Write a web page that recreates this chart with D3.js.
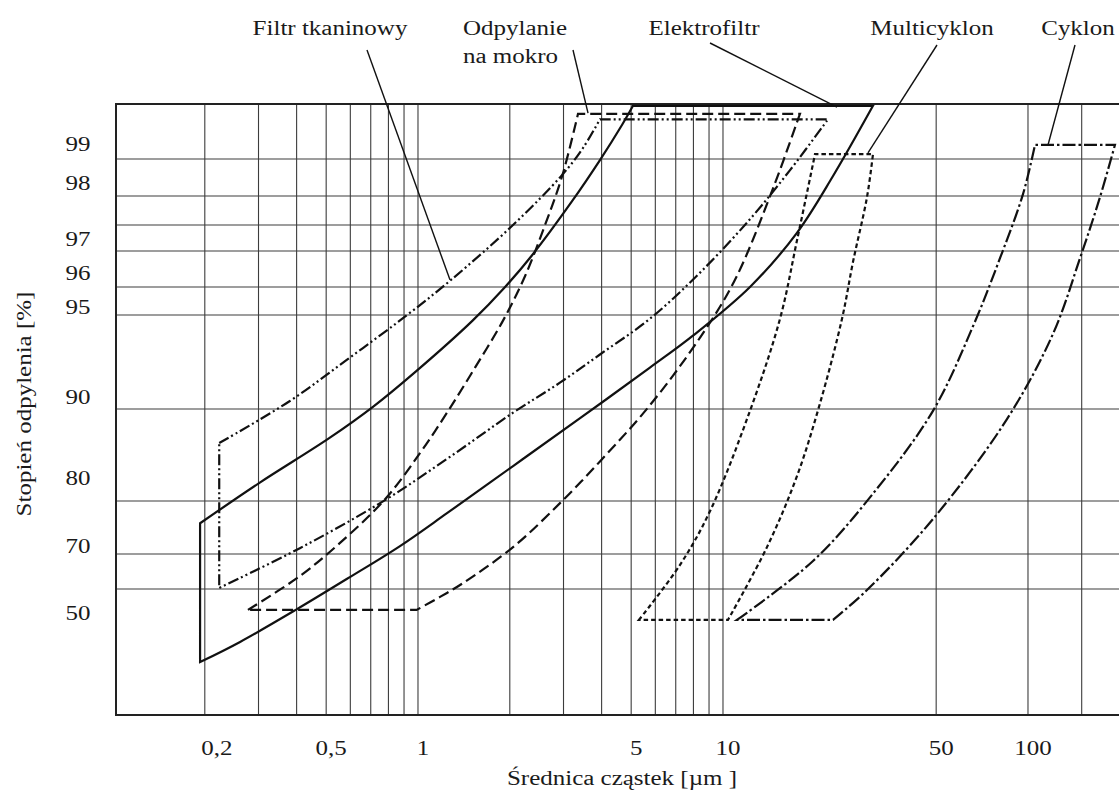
<!DOCTYPE html>
<html>
<head>
<meta charset="utf-8">
<script src="https://cdn.jsdelivr.net/npm/d3@7"></script>
<style>
  body { margin: 0; background: #fff; }
  text { font-family: "Liberation Serif", "Times New Roman", serif; fill: #1a1a1a; }
</style>
</head>
<body>
<svg id="chart" width="1119" height="791"></svg>
<script>
// ---- axis values ----
const xTicks = [0.2, 0.5, 1, 5, 10, 50, 100];
const xGrid = [0.2, 0.3, 0.4, 0.5, 0.6, 0.7, 0.8, 0.9, 1, 2, 3, 4, 5, 6, 7, 8, 9, 10, 50, 100, 150];
const yTicks = [99, 98, 97, 96, 95, 90, 80, 70, 50];
const yGrid = [99, 98, 97.5, 97, 96, 95, 90, 80, 70, 60];

// ---- efficiency bands: [particle diameter µm, separation efficiency %] ----
// each band is closed by straight segments between the ends of its two edges
const filtrUpper = [[0.223, 86.3], [0.378, 90.4], [0.594, 92.7], [0.913, 94.95], [1.293, 96.22],
  [2.049, 97.5], [2.97, 98.57], [3.475, 99.18], [3.95, 99.65]];
const filtrLower = [[0.223, 60.3], [0.41, 71.1], [0.78, 80.1], [1.273, 84.8], [2.05, 89.6], [2.92, 91.4],
  [3.95, 92.9], [5.76, 94.8], [8.41, 96.4], [12.26, 97.6], [16.59, 98.7], [22.1, 99.65]];

const mokroLeft = [[0.277, 54.2], [0.41, 63.7], [0.555, 72.1], [0.78, 80.2], [1.015, 85.2], [1.245, 89.6],
  [1.538, 92.2], [1.9, 94.7], [2.243, 96.3], [2.609, 97.5], [2.97, 98.54], [3.347, 99.74]];
const mokroRight = [[0.99, 54.2], [1.181, 57.8], [1.405, 61.7], [2.05, 71.3], [2.99, 80.1], [3.95, 84.3],
  [5.76, 90.2], [8.41, 93.8], [10.95, 96.2], [14.58, 98.2], [17.88, 99.74]];

const elektroUpper = [[0.193, 75.8], [0.303, 82.0], [0.51, 86.8], [0.71, 90.1], [0.985, 92.0], [1.51, 94.7],
  [1.93, 96.0], [2.37, 96.89], [3.2, 97.91], [3.95, 98.97], [4.67, 99.56], [5.07, 99.87]];
const elektroLower = [[0.193, 39.7], [0.261, 45.3], [0.401, 54.4], [0.598, 63.4], [0.873, 71.5], [1.245, 77.7],
  [2.05, 83.8], [3.4, 89.0], [5.76, 92.2], [7.97, 93.9], [12.26, 96.0], [17.48, 97.35], [22.95, 98.54], [31.03, 99.87]];

const multiLeft = [[5.3, 51.4], [7.23, 66.9], [9.07, 78.1], [12.26, 89.8], [15.38, 94.8], [17.48, 97.2], [20.03, 99.08]];
const multiRight = [[10.38, 51.4], [13.94, 71.3], [17.48, 82.7], [20.8, 90.3], [24.56, 94.8], [26.69, 96.7],
  [29.66, 97.98], [31.03, 99.08]];

const cyklonLeft = [[11.11, 51.4], [19.73, 68.0], [31.03, 80.8], [48.81, 89.8], [66.02, 94.4], [80.95, 96.8],
  [96.3, 98.05], [105.4, 99.23]];
const cyklonRight = [[22.95, 51.4], [29.66, 59.7], [48.81, 76.6], [85.33, 88.9], [120.8, 94.0], [148.1, 96.8],
  [172.2, 97.98], [192.8, 99.23]];

const bandNames = ["Filtr tkaninowy", "Odpylanie na mokro", "Elektrofiltr", "Multicyklon", "Cyklon"];
// leader-line targets on each band
const leaderTargets = [[1.273, 96.2], [3.61, 99.75], [23.65, 99.85], [29.88, 99.1], [116.3, 99.23]];

// ---- layout ----
const W = 1119, H = 791;
const plot = { left: 116, top: 104, bottom: 715 };
const fontPx = 20, stretch = 1.25;
// fine placement of the printed axis labels relative to their rulings
const yLabelShift = { 99: -3, 98: -1, 96: -2, 95: 4, 80: -11, 70: 4 };
const xLabelShift = { 0.2: 12 };

const svg = d3.select("#chart");

const x = d3.scaleLog()
  .domain([0.1023, 210])
  .range([plot.left, plot.left + 305 * Math.log10(210 / 0.1023)]);

// probability-style ordinate, piecewise linear between printed rulings
const y = d3.scaleLinear()
  .domain([25, 60, 70, 80, 90, 95, 96, 97, 97.5, 98, 99, 99.9])
  .range([715, 589, 554, 501, 409, 315, 287, 251, 225, 196, 159, 104]);

const pl = d3.formatLocale({ decimal: ",", thousands: " ", grouping: [3], currency: ["", " zł"] });
const fmt = v => pl.format("~g")(v);

function label(g, px, py, str, anchor, extra) {
  return g.append("text")
    .attr("transform", `translate(${px},${py})${extra || ""} scale(${stretch},1)`)
    .attr("text-anchor", anchor)
    .style("font-size", fontPx + "px")
    .text(str);
}

// grid
const grid = svg.append("g").attr("stroke", "#3c3c3c").attr("stroke-width", 1.1);
grid.selectAll("line.v").data(xGrid).join("line")
  .attr("x1", d => x(d)).attr("x2", d => x(d))
  .attr("y1", plot.top).attr("y2", plot.bottom);
grid.selectAll("line.h").data(yGrid).join("line")
  .attr("x1", plot.left).attr("x2", W + 10)
  .attr("y1", d => y(d)).attr("y2", d => y(d));

// frame
svg.append("path")
  .attr("d", `M${W + 10},${plot.top}H${plot.left}V${plot.bottom}H${W + 10}`)
  .attr("fill", "none").attr("stroke", "#222").attr("stroke-width", 2);

// tick labels
const axes = svg.append("g");
xTicks.forEach(v => label(axes, x(v) + (v in xLabelShift ? xLabelShift[v] : 5), 755, fmt(v), "middle"));
yTicks.forEach(v => label(axes, 78, y(v) - 5 + (yLabelShift[v] || 0), fmt(v), "middle"));

// axis titles
label(axes, 622, 785, "Średnica cząstek [µm ]", "middle");
label(axes, 31, 404, "Stopień odpylenia [%]", "middle", " rotate(-90)");

// bands
const line = d3.line()
  .x(d => x(d[0])).y(d => y(d[1]))
  .curve(d3.curveCatmullRom.alpha(0.5));

const bands = [
  { edgeA: filtrUpper, edgeB: filtrLower, dash: "11,3,2,3,2,3" },
  { edgeA: mokroLeft, edgeB: mokroRight, dash: "11,5" },
  { edgeA: elektroUpper, edgeB: elektroLower, dash: null },
  { edgeA: multiLeft, edgeB: multiRight, dash: "4.5,3" },
  { edgeA: cyklonLeft, edgeB: cyklonRight, dash: "13,3,2.5,3" }
];

const bandG = svg.append("g").attr("fill", "none").attr("stroke", "#111")
  .attr("stroke-width", 2.2).attr("stroke-linejoin", "miter");
bands.forEach(b => {
  const a = line(b.edgeA);
  const r = line(b.edgeB.slice().reverse());
  bandG.append("path")
    .attr("d", a + "L" + r.slice(1) + "Z")
    .attr("stroke-dasharray", b.dash);
});

// callouts
const calloutLayout = [
  { lines: ["Filtr tkaninowy"], tx: 330, ty: 35, anchor: "middle", from: [367, 50] },
  { lines: ["Odpylanie", "na mokro"], tx: 463, ty: 35, anchor: "start", from: [573, 50] },
  { lines: ["Elektrofiltr"], tx: 704, ty: 35, anchor: "middle", from: [710, 43] },
  { lines: ["Multicyklon"], tx: 932, ty: 35, anchor: "middle", from: [937, 45] },
  { lines: ["Cyklon"], tx: 1078, ty: 35, anchor: "middle", from: [1075, 45] }
];
const callG = svg.append("g");
calloutLayout.forEach((c, i) => {
  c.lines.forEach((s, k) => label(callG, c.tx, c.ty + k * 28, s, c.anchor));
  const t = leaderTargets[i];
  callG.append("line")
    .attr("x1", c.from[0]).attr("y1", c.from[1])
    .attr("x2", x(t[0])).attr("y2", y(t[1]))
    .attr("stroke", "#111").attr("stroke-width", 1.4)
    .append("title").text(bandNames[i]);
});
</script>
</body>
</html>
